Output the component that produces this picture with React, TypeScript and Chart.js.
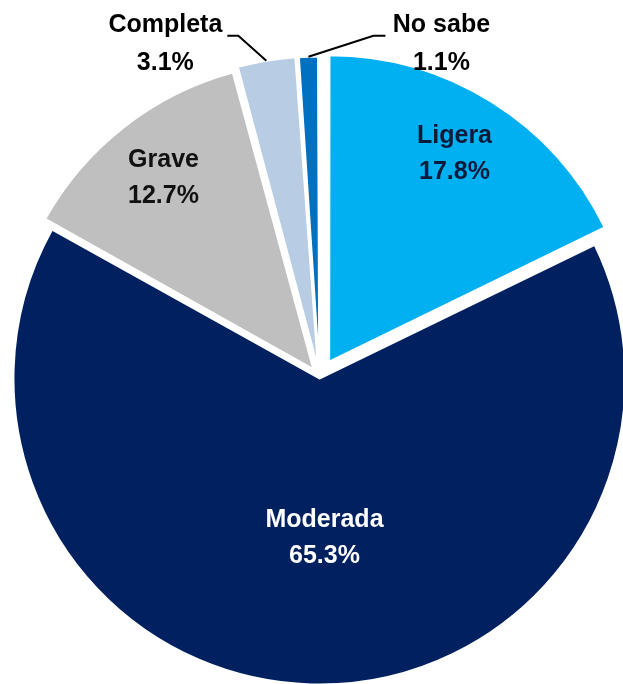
import React, { useEffect, useRef } from 'react';
import { Chart, registerables } from 'chart.js';

Chart.register(...registerables);

// ---- data ----
const categories: string[] = ['Ligera', 'Moderada', 'Grave', 'Completa', 'No sabe'];
const values: number[] = [17.8, 65.3, 12.7, 3.1, 1.1];
const valueLabels: string[] = ['17.8%', '65.3%', '12.7%', '3.1%', '1.1%'];

// ---- styles ----
const sliceColors = ['#00B0F0', '#002060', '#BFBFBF', '#B8CCE4', '#0070C0'];
const sliceOffsets = [73, 6, 40, 36, 33];
const labelColors = ['#0B1A3A', '#FFFFFF', '#111111', '#000000', '#000000'];
// internal label placement relative to pie centre (px)
const insideLabel: Record<number, [number, number]> = {
  0: [135, -223],
  1: [5, 161],
  2: [-156, -199],
};
// external label leader-line geometry: elbow delta, horizontal run, text dx
const outsideLabel: Record<number, { ex: number; ey: number; run: number; tdx: number }> = {
  3: { ex: -28, ey: -25, run: -11, tdx: -62 },
  4: { ex: 65, ey: -21, run: 12, tdx: 56 },
};

const FONT = 'bold 25px "Liberation Sans", Arial, sans-serif';

const labelPlugin = {
  id: 'sliceLabels',
  afterDatasetsDraw(chart: any) {
    const ctx: CanvasRenderingContext2D = chart.ctx;
    const meta = chart.getDatasetMeta(0);
    ctx.save();
    ctx.font = FONT;
    ctx.textAlign = 'center';
    ctx.textBaseline = 'middle';
    meta.data.forEach((arc: any, i: number) => {
      const { x, y, startAngle, endAngle, outerRadius } = arc.getProps(
        ['x', 'y', 'startAngle', 'endAngle', 'outerRadius'],
        true
      );
      const mid = (startAngle + endAngle) / 2;
      const t = sliceOffsets[i] / 4;
      const circ = endAngle - startAngle;
      const fix = 1 - Math.sin(Math.min(Math.PI, circ));
      const r = outerRadius + t * fix;
      ctx.fillStyle = labelColors[i];
      if (insideLabel[i]) {
        const [dx, dy] = insideLabel[i];
        const cx = x + dx;
        const cy = y + dy;
        ctx.fillText(categories[i], cx, cy - 18);
        ctx.fillText(valueLabels[i], cx, cy + 18);
      } else if (outsideLabel[i]) {
        const g = outsideLabel[i];
        const px = x + Math.cos(mid) * (t + r);
        const py = y + Math.sin(mid) * (t + r);
        const elx = px + g.ex;
        const ely = py + g.ey;
        const enx = elx + g.run;
        ctx.strokeStyle = '#000000';
        ctx.lineWidth = 2;
        ctx.beginPath();
        ctx.moveTo(px, py);
        ctx.lineTo(elx, ely);
        ctx.lineTo(enx, ely);
        ctx.stroke();
        const tx = enx + g.tdx;
        ctx.fillText(categories[i], tx, ely - 11);
        ctx.fillText(valueLabels[i], tx, ely + 27);
      }
    });
    ctx.restore();
  },
};

export default function App() {
  const canvasRef = useRef<HTMLCanvasElement | null>(null);

  useEffect(() => {
    if (!canvasRef.current) return;
    const chart = new Chart(canvasRef.current, {
      type: 'pie',
      data: {
        labels: categories,
        datasets: [
          {
            data: values,
            backgroundColor: sliceColors,
            borderColor: '#FFFFFF',
            borderWidth: 2,
            offset: sliceOffsets,
            radius: 304.5,
          } as any,
        ],
      },
      options: {
        responsive: true,
        maintainAspectRatio: false,
        animation: false,
        layout: { padding: { left: 16, right: 0, top: 70, bottom: 0 } },
        plugins: {
          legend: { display: false },
          tooltip: { enabled: false },
        },
        events: [],
      } as any,
      plugins: [labelPlugin],
    });
    return () => chart.destroy();
  }, []);

  return (
    <div style={{ position: 'fixed', left: 0, top: 0, width: 623, height: 684, background: '#FFFFFF' }}>
      <canvas ref={canvasRef} />
    </div>
  );
}
